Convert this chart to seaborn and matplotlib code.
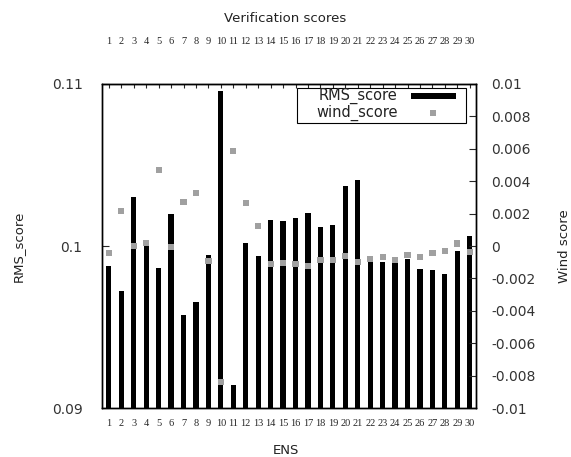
import seaborn as sns
import matplotlib.pyplot as plt
import pandas as pd
import numpy as np
from matplotlib.patches import Rectangle

sns.set_style("ticks")
plt.rcParams['font.family'] = ['DejaVu Sans']

# ensemble members and scores
ens = list(range(1, 31))
rms_score = [0.09875, 0.09724, 0.1030, 0.1001, 0.09865, 0.1020, 0.09572, 0.09656, 0.09947, 0.10955,
             0.0914, 0.10017, 0.09938, 0.10162, 0.10156, 0.10171, 0.10202, 0.10117, 0.10130, 0.10372,
             0.10407, 0.09903, 0.09903, 0.09893, 0.09918, 0.09856, 0.09852, 0.09827, 0.09971, 0.10064]
wind_score = [-0.00041, 0.00214, 0.0, 0.00017, 0.00469, -0.00006, 0.00272, 0.00329, -0.00094, -0.00840,
              0.00586, 0.00267, 0.00125, -0.00113, -0.00107, -0.00113, -0.00122, -0.00085, -0.00085, -0.00064,
              -0.00101, -0.00082, -0.00070, -0.00088, -0.00057, -0.00070, -0.00041, -0.00031, 0.00016, -0.00037]

df = pd.DataFrame({"ENS": ens, "RMS_score": rms_score, "wind_score": wind_score})

fig = plt.figure(figsize=(5.71, 4.57), dpi=100)
ax = fig.add_axes([0.1786, 0.1072, 0.655, 0.709])

sns.barplot(data=df, x="ENS", y="RMS_score", native_scale=True, width=0.42,
            color="black", saturation=1, linewidth=0, ax=ax, zorder=2)
ax.set_ylim(0.09, 0.11)
ax.set_xlim(0.45, 30.5)
ax.set_yticks([0.09, 0.1, 0.11])
ax.set_yticklabels(["0.09", "0.1", "0.11"], fontsize=10, color="#333333")
ax.set_xticks(ens)
ax.set_xticklabels([str(e) for e in ens], family="Liberation Serif", fontsize=7.5)
ax.tick_params(axis="x", direction="in", length=3, width=0.8, bottom=True, top=False, pad=8)
ax.tick_params(axis="y", direction="in", length=5, width=0.8, pad=14)
ax.set_xlabel("")
ax.set_ylabel("")

# mirrored member numbers on the top axis
top = ax.secondary_xaxis("top")
top.set_xticks(ens)
top.set_xticklabels([str(e) for e in ens], family="Liberation Serif", fontsize=7.5)
top.tick_params(axis="x", direction="in", length=3, width=0.8, pad=27)

ax2 = ax.twinx()
sns.scatterplot(data=df, x="ENS", y="wind_score", marker="s", s=20, color="#a0a0a0",
                edgecolor="none", ax=ax2, zorder=3)
ax2.set_ylim(-0.01, 0.01)
rticks = np.round(np.arange(-0.01, 0.0101, 0.002), 3)
ax2.set_yticks(rticks)
ax2.set_yticklabels([("%g" % t) if t != 0 else "0" for t in rticks], fontsize=10, color="#333333")
ax2.tick_params(axis="y", direction="in", length=5, width=0.8, pad=11)
ax2.set_ylabel("")

for a in (ax, ax2):
    for sp in a.spines.values():
        sp.set_color("black")
        sp.set_linewidth(1.0)

# gnuplot-style key: right-aligned labels, sample to the right
tr = ax2.transAxes
ax2.add_patch(Rectangle((0.521, 0.880), 0.452, 0.108, transform=tr, facecolor="white",
                        edgecolor="black", linewidth=0.8, zorder=5))
ax2.text(0.791, 0.962, "RMS_score", transform=tr, ha="right", va="center",
         fontsize=10.5, color="#222222", zorder=6)
ax2.text(0.791, 0.910, "wind_score", transform=tr, ha="right", va="center",
         fontsize=10.5, color="#222222", zorder=6)
ax2.add_patch(Rectangle((0.826, 0.953), 0.121, 0.019, transform=tr, facecolor="black",
                        edgecolor="none", zorder=6))
ax2.plot([0.885], [0.910], transform=tr, marker="s", markersize=4, markeredgewidth=0,
         color="#a0a0a0", linestyle="none", zorder=6)

fig.text(0.5, 1 - 18 / 457, "Verification scores", ha="center", va="center", fontsize=9.5, color="#222222")
fig.text(0.5, 1 - 450 / 457, "ENS", ha="center", va="center", fontsize=9.5, color="#222222")
fig.text(18 / 571, 1 - 246 / 457, "RMS_score", rotation=90, ha="center", va="center", fontsize=9.5, color="#222222")
fig.text(565 / 571, 1 - 246 / 457, "Wind score", rotation=90, ha="center", va="center", fontsize=9.5, color="#222222")

fig.savefig("out.png", dpi=100)
